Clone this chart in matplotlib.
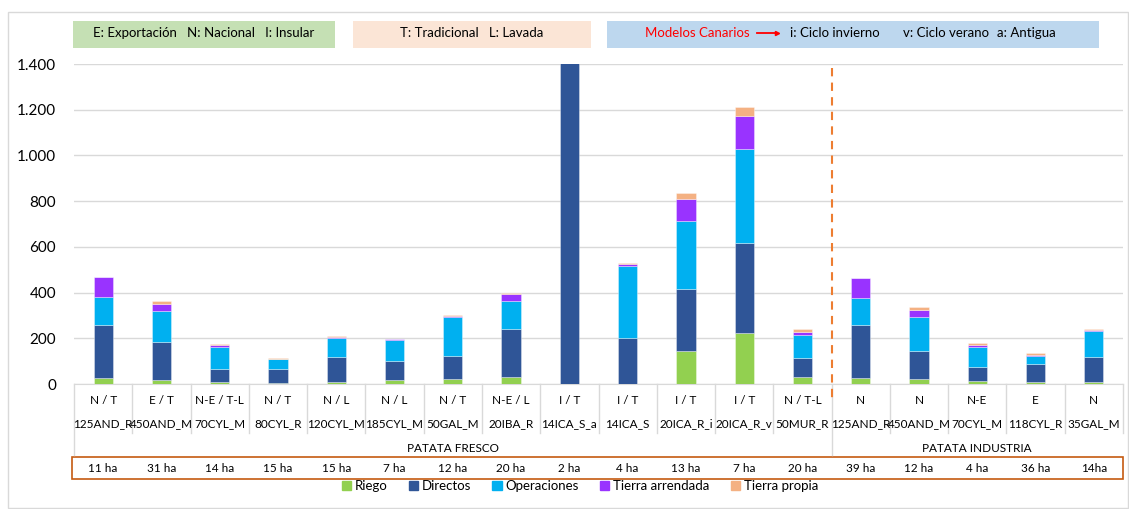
import matplotlib
matplotlib.use("Agg")
import matplotlib.pyplot as plt
from matplotlib.patches import Rectangle
from matplotlib.lines import Line2D
from matplotlib.ticker import FuncFormatter
import numpy as np

plt.rcParams['font.family'] = ['Lato', 'DejaVu Sans']

# ---------------- data ----------------
codes = ["N / T", "E / T", "N-E / T-L", "N / T", "N / L", "N / L", "N / T", "N-E / L",
         "I / T", "I / T", "I / T", "I / T", "N / T-L",
         "N", "N", "N-E", "E", "N"]
names = ["125AND_R", "450AND_M", "70CYL_M", "80CYL_R", "120CYL_M", "185CYL_M", "50GAL_M", "20IBA_R",
         "14ICA_S_a", "14ICA_S", "20ICA_R_i", "20ICA_R_v", "50MUR_R",
         "125AND_R", "450AND_M", "70CYL_M", "118CYL_R", "35GAL_M"]
hectares = ["11 ha", "31 ha", "14 ha", "15 ha", "15 ha", "7 ha", "12 ha", "20 ha",
            "2 ha", "4 ha", "13 ha", "7 ha", "20 ha",
            "39 ha", "12 ha", "4 ha", "36 ha", "14ha"]
groups = ["PATATA FRESCO", "PATATA INDUSTRIA"]
group_sizes = [13, 5]

riego       = [27, 19, 10, 6, 10, 16, 21, 32, 0, 0, 146, 222, 30, 27, 21, 12, 9, 9]
directos    = [233, 164, 56, 59, 108, 84, 100, 210, 1700, 202, 269, 395, 85, 233, 124, 62, 78, 109]
operaciones = [121, 137, 96, 43, 84, 92, 170, 123, 0, 314, 297, 412, 101, 116, 149, 90, 37, 112]
t_arrendada = [88, 28, 9, 2, 3, 4, 7, 28, 0, 8, 98, 143, 13, 86, 28, 7, 4, 6]
t_propia    = [0, 15, 6, 3, 5, 3, 3, 4, 0, 7, 27, 38, 12, 0, 17, 8, 8, 3]

series_names = ["Riego", "Directos", "Operaciones", "Tierra arrendada", "Tierra propia"]
series_vals = [riego, directos, operaciones, t_arrendada, t_propia]
colors = ["#92D050", "#2F5597", "#00B0F0", "#9933FF", "#F4B183"]

# ---------------- figure ----------------
W, H = 1129, 509
fig = plt.figure(figsize=(W / 100, H / 100), dpi=100)

def fx(px):
    return px / W

def fy(py):
    return 1 - py / H

# outer light frame
fig.patches.append(Rectangle((fx(8), fy(508)), fx(1128) - fx(8), fy(12) - fy(508),
                             transform=fig.transFigure, fill=False, edgecolor="#D9D9D9", lw=1))

ax_l, ax_r, ax_t, ax_b = 74, 1123, 64, 384
ax = fig.add_axes([fx(ax_l), fy(ax_b), fx(ax_r) - fx(ax_l), fy(ax_t) - fy(ax_b)])

x = np.arange(len(names))
bottom = np.zeros(len(names))
width = 0.33
for nm, vals, c in zip(series_names, series_vals, colors):
    v = np.array(vals, dtype=float)
    ax.bar(x, v, width, bottom=bottom, color=c, edgecolor=(1, 1, 1, 0.5), linewidth=0.5,
           label=nm, zorder=3)
    bottom += v

ax.set_xlim(-0.5, len(names) - 0.5)
ax.set_ylim(0, 1400)
ax.set_yticks(np.arange(0, 1401, 200))
ax.yaxis.set_major_formatter(FuncFormatter(lambda v, p: f"{int(v):,}".replace(",", ".")))
ax.tick_params(axis="y", length=0, labelsize=11, pad=13, colors="#000000")
ax.set_xticks([])
ax.grid(axis="y", color="#D9D9D9", lw=1, zorder=0)
for s in ["top", "right", "left"]:
    ax.spines[s].set_visible(False)
ax.spines["bottom"].set_color("#D9D9D9")

# dashed separator
trans = ax.get_xaxis_transform()
sep = group_sizes[0] - 0.5
ax.plot([sep, sep], [0.988, -0.056], transform=trans, color="#ED7D31", lw=1.5,
        ls=(0, (4, 3)), clip_on=False, zorder=4)

# category table
def ay(py):
    return (ax_b - py) / (ax_b - ax_t)

for i in range(len(names)):
    ax.text(i, ay(401), codes[i], transform=trans, ha="center", va="center", fontsize=8.5)
    ax.text(i, ay(424), names[i], transform=trans, ha="center", va="center", fontsize=8.5)
    ax.text(i, ay(468), hectares[i], transform=trans, ha="center", va="center", fontsize=8.5)
for i in range(len(names) + 1):
    xb = i - 0.5
    yb = ay(455) if (i == 0 or i == group_sizes[0]) else ay(433)
    ax.plot([xb, xb], [0, yb], transform=trans, color="#D9D9D9", lw=1, clip_on=False)

start = 0
for g, n in zip(groups, group_sizes):
    ax.text(start + (n - 1) / 2, ay(449), g, transform=trans, ha="center", va="center", fontsize=8.5)
    start += n

# hectare box
ax.add_patch(Rectangle((-0.53, ay(479)), len(names) + 0.03, ay(457) - ay(479), transform=trans,
                       fill=False, edgecolor="#C55A11", lw=1.2, clip_on=False))

# legend
handles = [Rectangle((0, 0), 1, 1, color=c) for c in colors]
fig.legend(handles, series_names, loc="center", bbox_to_anchor=(fx(580), fy(486)), ncol=5,
           frameon=False, fontsize=9.5, handlelength=0.7, handleheight=0.7,
           handletextpad=0.3, columnspacing=1.6)

# top annotation boxes
def box(x0, x1, y0, y1, color):
    fig.patches.append(Rectangle((fx(x0), fy(y1)), fx(x1) - fx(x0), fy(y0) - fy(y1),
                                 transform=fig.transFigure, facecolor=color, edgecolor="none"))

box(73, 335, 21, 48, "#C5E0B4")
box(353, 591, 21, 48, "#FBE5D6")
box(607, 1099, 21, 48, "#BDD7EE")

fs = 9.5
fig.text(fx(204), fy(33), "E: Exportación   N: Nacional   I: Insular", ha="center", va="center", fontsize=fs)
fig.text(fx(472), fy(33), "T: Tradicional   L: Lavada", ha="center", va="center", fontsize=fs)
fig.text(fx(645), fy(33), "Modelos Canarios", ha="left", va="center", fontsize=fs, color="#FF0000")
fig.add_artist(Line2D([fx(757), fx(776)], [fy(33), fy(33)], transform=fig.transFigure,
                      color="#FF0000", lw=1.3))
fig.add_artist(Line2D([fx(777)], [fy(33)], transform=fig.transFigure, color="#FF0000",
                      marker=">", markersize=3, lw=0))
fig.text(fx(790), fy(33), "i: Ciclo invierno", ha="left", va="center", fontsize=fs)
fig.text(fx(903), fy(33), "v: Ciclo verano", ha="left", va="center", fontsize=fs)
fig.text(fx(997), fy(33), "a: Antigua", ha="left", va="center", fontsize=fs)

fig.savefig("out.png", dpi=100)
